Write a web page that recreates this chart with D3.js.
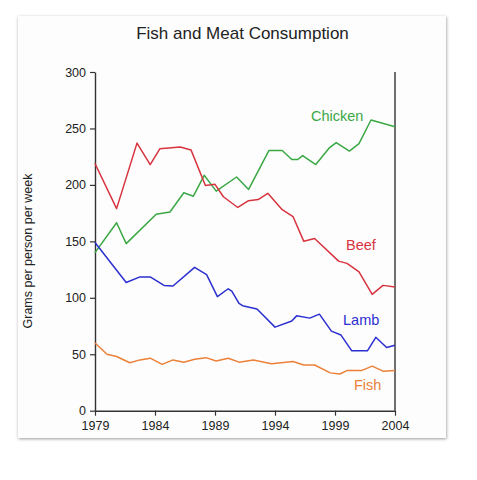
<!DOCTYPE html>
<html lang="en">
<head>
<meta charset="UTF-8">
<title>Fish and Meat Consumption</title>
<script src="https://cdn.jsdelivr.net/npm/d3@7"></script>
<style>
    html, body { margin: 0; padding: 0; background: #ffffff; }
    body { font-family: "Liberation Sans", Arial, Helvetica, sans-serif; }
    svg { display: block; }
</style>
</head>
<body>
<div id="chart"></div>
<script>
const beefYears   = [1979, 1980.8, 1982.5, 1983.6, 1984.4, 1986.1, 1987.0, 1988.2, 1989.0, 1989.7, 1990.9, 1991.8, 1992.6, 1993.4, 1994.6, 1995.5, 1996.4, 1997.3, 1999.3, 2000.0, 2001.0, 2002.1, 2003.0, 2004];
const beefValues  = [219, 179, 237, 218, 232, 233.5, 231, 199.5, 200.5, 189.5, 180, 186, 187, 192.5, 178, 172, 150, 152.5, 132.5, 130.5, 123, 103, 111, 109.5];

const chickenYears  = [1979, 1980.8, 1981.6, 1984.1, 1985.25, 1986.4, 1987.2, 1988.1, 1989.1, 1990.8, 1991.8, 1993.5, 1994.6, 1995.4, 1995.9, 1996.3, 1997.4, 1998.5, 1999.1, 2000.2, 2001.0, 2002.0, 2004];
const chickenValues = [140, 166.5, 148, 174, 176, 193, 190, 208.5, 194.5, 207, 196, 230.5, 230.5, 222.5, 222.5, 226, 218, 232.5, 237.5, 230, 236.5, 257.5, 251.5];

const lambYears  = [1979, 1981.6, 1982.75, 1983.6, 1984.75, 1985.5, 1987.3, 1988.3, 1989.2, 1990.1, 1990.4, 1991.0, 1991.3, 1992.5, 1994.0, 1995.4, 1995.8, 1996.9, 1997.7, 1998.7, 1999.5, 2000.4, 2001.7, 2002.4, 2003.3, 2004];
const lambValues = [149, 113.5, 118.5, 118.5, 111, 110.5, 127, 120.5, 101, 108, 106, 95, 93, 90, 74, 79.5, 84, 82, 85.5, 70.5, 67, 53, 53, 65, 56, 58];

const fishYears  = [1979, 1980.0, 1980.8, 1981.9, 1982.75, 1983.6, 1984.6, 1985.5, 1986.4, 1987.3, 1988.25, 1989.1, 1990.1, 1991.0, 1992.2, 1993.7, 1995.5, 1996.4, 1997.3, 1998.6, 1999.4, 2000.0, 2001.2, 2002.1, 2003.0, 2004];
const fishValues = [60, 50, 48, 42.5, 45, 46.5, 41, 45, 43, 45.5, 47, 44, 46.5, 43, 45, 41.5, 43.5, 40.5, 40.5, 33.5, 32.5, 35.5, 35.5, 39.5, 35, 35.5];

const xTicks = [1979, 1984, 1989, 1994, 1999, 2004];
const yTicks = [0, 50, 100, 150, 200, 250, 300];

const seriesNames = ["Chicken", "Beef", "Lamb", "Fish"];
const seriesColors = ["#3aa845", "#d8343f", "#2b2fd0", "#ec8139"];

const series = [
    { name: "Chicken", years: chickenYears, values: chickenValues, label: [311, 121] },
    { name: "Beef",    years: beefYears,    values: beefValues,    label: [346, 250] },
    { name: "Lamb",    years: lambYears,    values: lambValues,    label: [343, 325] },
    { name: "Fish",    years: fishYears,    values: fishValues,    label: [354, 390] }
];

const W = 477, H = 480;

const svg = d3.select("#chart").append("svg")
    .attr("width", W)
    .attr("height", H);

// drop shadow for the card
const defs = svg.append("defs");
const f = defs.append("filter").attr("id", "shadow")
    .attr("x", "-5%").attr("y", "-5%").attr("width", "110%").attr("height", "110%");
f.append("feDropShadow")
    .attr("dx", 0.5).attr("dy", 1)
    .attr("stdDeviation", 1.8)
    .attr("flood-color", "#000").attr("flood-opacity", 0.4);

svg.append("rect")
    .attr("x", 18).attr("y", 16)
    .attr("width", 428).attr("height", 422)
    .attr("fill", "#fdfdfd")
    .attr("filter", "url(#shadow)");

const x = d3.scaleLinear().domain([1979, 2004]).range([95, 395]);
const y = d3.scaleLinear().domain([0, 300]).range([410.7, 72]);

// title
svg.append("text")
    .attr("x", 242.5).attr("y", 39)
    .attr("text-anchor", "middle")
    .attr("font-size", 17)
    .attr("fill", "#222")
    .text("Fish and Meat Consumption");

// y axis title
svg.append("text")
    .attr("transform", "translate(32,251) rotate(-90)")
    .attr("text-anchor", "middle")
    .attr("font-size", 12.5)
    .attr("fill", "#222")
    .text("Grams per person per week");

// axes
const yAxis = svg.append("g")
    .attr("transform", "translate(95,0)")
    .call(d3.axisLeft(y).tickValues(yTicks).tickSize(5).tickPadding(4).tickSizeOuter(0));

const xAxis = svg.append("g")
    .attr("transform", `translate(0,${y(0)})`)
    .call(d3.axisBottom(x).tickValues(xTicks).tickFormat(d3.format("d")).tickSize(5).tickPadding(5).tickSizeOuter(0));

[yAxis, xAxis].forEach(g => {
    g.select(".domain").attr("stroke", "#333").attr("stroke-width", 1.4);
    g.selectAll(".tick line").attr("stroke", "#333").attr("stroke-width", 1.2);
    g.selectAll(".tick text")
        .attr("fill", "#222")
        .attr("font-size", 12.5)
        .attr("font-family", "'Liberation Sans', Arial, sans-serif");
});

// right border line
svg.append("line")
    .attr("x1", x(2004)).attr("x2", x(2004))
    .attr("y1", y(300)).attr("y2", y(0))
    .attr("stroke", "#333").attr("stroke-width", 1.4);

const line = d3.line()
    .x(d => x(d[0]))
    .y(d => y(d[1]));

series.forEach(s => {
    const color = seriesColors[seriesNames.indexOf(s.name)];
    const pts = s.years.map((yr, k) => [yr, s.values[k]]);
    svg.append("path")
        .datum(pts)
        .attr("fill", "none")
        .attr("stroke", color)
        .attr("stroke-width", 1.5)
        .attr("stroke-linejoin", "round")
        .attr("d", line);

    svg.append("text")
        .attr("x", s.label[0]).attr("y", s.label[1])
        .attr("font-size", 14.5)
        .attr("fill", color)
        .text(s.name);
});
</script>
</body>
</html>
